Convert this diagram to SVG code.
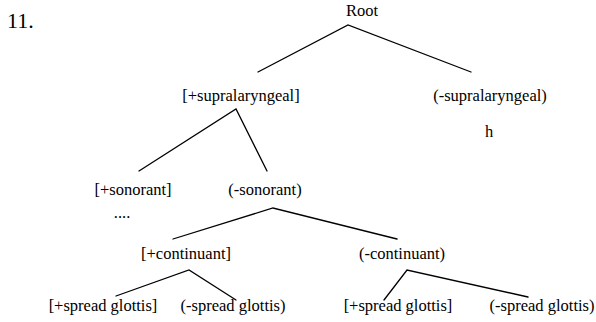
<svg xmlns="http://www.w3.org/2000/svg" width="596" height="322" viewBox="0 0 596 322">
  <style>
    .lbl { font-family: "Liberation Serif", "Times New Roman", serif; font-size: 16.5px; fill: #000; text-anchor: middle; }
    .num { font-family: "Liberation Serif", "Times New Roman", serif; font-size: 22px; fill: #000; }
    .edge { stroke: #000; stroke-width: 1.3; fill: none; stroke-linecap: round; }
  </style>
  <rect width="596" height="322" fill="#fff"/>
  <text class="num" x="7" y="28">11.</text>

  <!-- branches of the feature tree -->
  <g id="connectors">
    <polyline class="edge" points="258,72 348,25 471,72"/>
    <polyline class="edge" points="139,171 236,109 267,171"/>
    <polyline class="edge" points="173,239 273,208 397,239"/>
    <polyline class="edge" points="116,296 189,270 236,300"/>
    <polyline class="edge" points="384,300 407,270 528,297"/>
  </g>

  <g id="root"><text class="lbl" x="362" y="16">Root</text></g>
  <g id="plus-supralaryngeal"><text class="lbl" x="241" y="101">[+supralaryngeal]</text></g>
  <g id="minus-supralaryngeal"><text class="lbl" x="490" y="101">(-supralaryngeal)</text></g>
  <g id="h"><text class="lbl" x="489" y="137">h</text></g>
  <g id="plus-sonorant"><text class="lbl" x="133" y="195">[+sonorant]</text></g>
  <g id="minus-sonorant"><text class="lbl" x="265" y="195">(-sonorant)</text></g>
  <g id="ellipsis"><text class="lbl" x="122" y="218">....</text></g>
  <g id="plus-continuant"><text class="lbl" x="186" y="259">[+continuant]</text></g>
  <g id="minus-continuant"><text class="lbl" x="402" y="259">(-continuant)</text></g>
  <g id="plus-sg-1"><text class="lbl" x="103" y="311">[+spread glottis]</text></g>
  <g id="minus-sg-1"><text class="lbl" x="233" y="311">(-spread glottis)</text></g>
  <g id="plus-sg-2"><text class="lbl" x="398" y="311">[+spread glottis]</text></g>
  <g id="minus-sg-2"><text class="lbl" x="542" y="311">(-spread glottis)</text></g>
</svg>
